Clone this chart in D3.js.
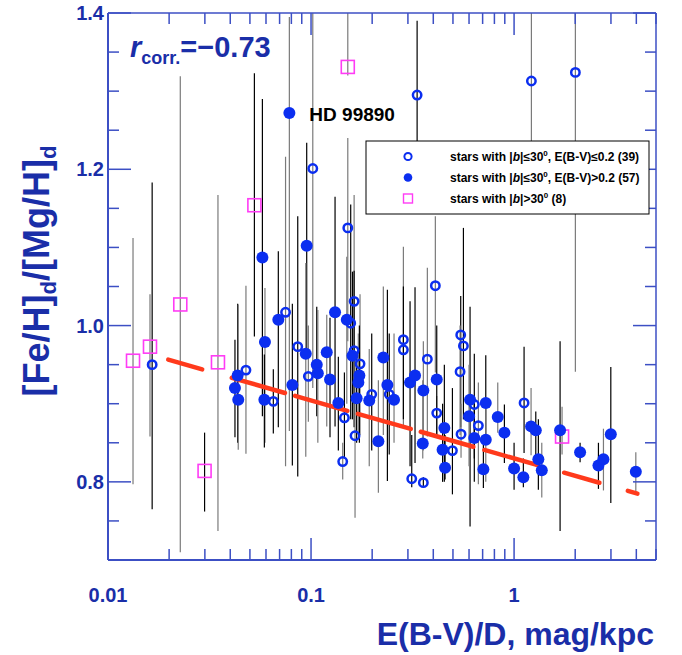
<!DOCTYPE html>
<html><head><meta charset="utf-8">
<script src="https://cdn.jsdelivr.net/npm/d3@7"></script>
<style>body{margin:0;background:#fff}svg{display:block}</style>
</head><body>
<svg id="c" width="682" height="655"></svg>
<script>
// ---------- DATA ----------
// [E(B-V)/D, ratio, errLow, errHigh, errSource]
const openCircles = [
 [0.0165,0.950,0.765,1.183,"A"],[0.0478,0.943,0.836,1.051,"B"],[0.0652,0.903,0.862,0.944,"A"],
 [0.0749,1.017,0.820,1.216,"B"],[0.0860,0.973,0.807,1.140,"A"],[0.0970,0.935,0.877,1.000,"B"],
 [0.333,1.295,1.150,1.390,"A"],[0.102,1.201,0.920,1.400,"B"],[0.1517,1.125,0.980,1.240,"B"],
 [0.4095,1.051,0.940,1.140,"B"],[1.217,1.313,1.150,1.400,"B"],[2.004,1.324,0.941,1.400,"B"],
 [0.163,1.031,0.900,1.167,"B"],[0.1568,1.003,0.880,1.155,"A"],[0.285,0.982,0.870,1.101,"B"],
 [0.285,0.969,0.880,1.050,"A"],[0.374,0.957,0.858,1.074,"B"],[0.163,0.968,0.870,1.070,"A"],
 [0.1743,0.951,0.860,1.040,"B"],[0.199,0.912,0.840,0.990,"A"],[0.2427,0.912,0.835,0.990,"A"],
 [0.146,0.882,0.830,0.940,"A"],[0.1647,0.859,0.754,0.960,"B"],[0.1432,0.826,0.803,0.850,"B"],
 [0.416,0.888,0.860,0.910,"B"],[0.3133,0.804,0.793,0.860,"A"],[0.3574,0.799,0.794,0.806,"A"],
 [0.546,0.988,0.870,1.038,"A"],[0.563,0.974,0.880,1.125,"A"],[0.542,0.941,0.860,1.000,"B"],
 [1.12,0.901,0.837,0.973,"A"],[0.637,0.899,0.830,0.964,"A"],[0.548,0.861,0.831,0.900,"B"],
 [0.667,0.872,0.797,0.927,"B"],[0.497,0.840,0.784,0.920,"A"]
];
const filledCircles = [
 [0.0782,1.272,0.865,1.395,"B"],[0.0952,1.102,0.960,1.234,"A"],[0.0576,1.087,0.884,1.290,"A"],
 [0.069,1.0075,0.870,1.095,"A"],[0.0593,0.979,0.850,1.048,"B"],[0.0942,0.964,0.832,1.080,"B"],
 [0.1195,0.966,0.871,1.014,"B"],[0.1067,0.950,0.884,1.024,"A"],[0.108,0.939,0.850,1.020,"B"],
 [0.124,0.931,0.857,1.010,"A"],[0.0809,0.924,0.821,1.028,"A"],[0.0435,0.936,0.850,1.028,"A"],
 [0.0422,0.920,0.857,0.982,"A"],[0.0438,0.905,0.841,1.027,"B"],[0.0589,0.905,0.844,0.963,"A"],
 [0.1313,1.017,0.871,1.165,"A"],[0.150,1.0075,0.900,1.088,"B"],[0.227,0.959,0.860,1.050,"B"],
 [0.160,0.9615,0.880,1.069,"A"],[0.173,0.936,0.850,1.000,"A"],[0.171,0.927,0.860,0.990,"B"],
 [0.2377,0.924,0.801,1.046,"A"],[0.2563,0.905,0.850,0.990,"B"],[0.3074,0.927,0.820,1.031,"A"],
 [0.3252,0.936,0.824,1.049,"A"],[0.3574,0.917,0.840,0.980,"B"],[0.416,0.931,0.860,1.000,"A"],
 [0.1935,0.904,0.820,0.970,"B"],[0.1363,0.901,0.840,0.960,"A"],[0.1677,0.907,0.850,0.960,"A"],
 [0.2146,0.852,0.786,0.930,"B"],[0.4535,0.869,0.800,0.950,"A"],[0.355,0.849,0.830,0.930,"B"],
 [0.4445,0.841,0.800,0.900,"A"],[0.4571,0.818,0.803,0.860,"A"],[0.607,0.905,0.743,1.024,"A"],
 [0.7254,0.901,0.850,0.962,"A"],[0.600,0.884,0.820,0.950,"B"],[0.831,0.883,0.863,0.927,"B"],
 [0.637,0.856,0.800,0.900,"A"],[0.7254,0.854,0.800,0.900,"B"],[0.896,0.863,0.824,0.899,"A"],
 [0.706,0.816,0.792,0.860,"A"],[1.2125,0.871,0.834,0.920,"B"],[1.279,0.866,0.820,0.890,"A"],
 [1.0,0.817,0.790,0.850,"A"],[1.111,0.806,0.793,0.830,"A"],[1.317,0.829,0.790,0.880,"A"],
 [1.369,0.815,0.780,0.850,"B"],[1.685,0.866,0.737,0.980,"A"],[2.114,0.838,0.825,0.850,"A"],
 [2.603,0.821,0.791,0.850,"A"],[2.755,0.829,0.789,0.868,"B"],[2.995,0.861,0.773,0.947,"A"],
 [3.977,0.813,0.788,0.838,"B"]
];
const squares = [
 [0.01328,0.955,0.797,1.112,"B"],[0.0161,0.973,0.858,1.040,"B"],[0.0227,1.027,0.710,1.319,"B"],
 [0.0299,0.814,0.762,0.863,"A"],[0.0348,0.953,0.737,1.167,"B"],[0.0526,1.154,0.986,1.323,"A"],
 [0.1517,1.331,1.320,1.450,"B"],[1.723,0.858,0.835,0.896,"B"]
];
const labelledStar = {name:"HD 99890", x:0.0782, y:1.272};
const fitIntercept = 0.830, fitSlope = -0.0742;   // y = a + b*log10(x)
const fitDashes = [[0.0198,0.0291],[0.0407,0.0744],[0.0834,0.151],[0.170,0.310],
                   [0.347,0.630],[0.714,1.308],[1.763,2.632],[3.632,4.05]];
const xDomain = [0.01, 5], yDomain = [0.7, 1.4];
const xMajor = [0.01, 0.1, 1];
const xMinor = [0.02,0.03,0.04,0.05,0.06,0.07,0.08,0.09,0.2,0.3,0.4,0.5,0.6,0.7,0.8,0.9,2,3,4,5];
const xLabels = ["0.01","0.1","1"];
const yMajor = [0.8, 1.0, 1.2, 1.4];
const yMinor = [0.75,0.85,0.9,0.95,1.05,1.1,1.15,1.25,1.3,1.35];
const yLabels = ["0.8","1.0","1.2","1.4"];
const legendItems = [
  {kind:"open", pre:"stars with |", it:"b", mid:"|≤30", sup:"0", post:", E(B-V)≤0.2 (39)"},
  {kind:"filled", pre:"stars with |", it:"b", mid:"|≤30", sup:"0", post:", E(B-V)>0.2 (57)"},
  {kind:"square", pre:"stars with |", it:"b", mid:"|>30", sup:"0", post:" (8)"}
];
const corrText = {sym:"r", sub:"corr.", val:"=\u22120.73"};
const xTitle = "E(B-V)/D, mag/kpc";

// ---------- DRAW ----------
const FONT = "'Liberation Sans', Arial, Helvetica, sans-serif";
const BLUE_TXT = "#1a2ea8", AXIS = "#3c4fc4", MARK = "#0b2ef0", MAG = "#ff3cf5", RED = "#ff3a1c";
const L = 108, R = 656, T = 13, B = 560;
const svg = d3.select("#c").style("font-family", FONT);
svg.append("rect").attr("width",682).attr("height",655).attr("fill","#fff");
const x = d3.scaleLog().domain(xDomain).range([L, R]);
const y = d3.scaleLinear().domain(yDomain).range([B, T]);
const barColor = d3.scaleOrdinal().domain(["A","B"]).range(["#000000","#7a7a7a"]);

svg.append("clipPath").attr("id","clip").append("rect").attr("x",L).attr("y",T).attr("width",R-L).attr("height",B-T);
const plot = svg.append("g").attr("clip-path","url(#clip)");

const all = [...squares, ...openCircles, ...filledCircles];
plot.selectAll("line.err").data(all).join("line").attr("class","err")
  .attr("x1",d=>x(d[0])).attr("x2",d=>x(d[0]))
  .attr("y1",d=>y(d[2])).attr("y2",d=>y(d[3]))
  .attr("stroke",d=>barColor(d[4])).attr("stroke-width",1.2);

// regression dashes
plot.selectAll("line.fit").data(fitDashes).join("line").attr("class","fit")
  .attr("x1",d=>x(d[0])).attr("y1",d=>y(fitIntercept+fitSlope*Math.log10(d[0])))
  .attr("x2",d=>x(d[1])).attr("y2",d=>y(fitIntercept+fitSlope*Math.log10(d[1])))
  .attr("stroke",RED).attr("stroke-width",4.5).attr("stroke-linecap","round");

plot.selectAll("rect.sq").data(squares).join("rect").attr("class","sq")
  .attr("x",d=>x(d[0])-6.5).attr("y",d=>y(d[1])-6.5).attr("width",13).attr("height",13)
  .attr("fill","none").attr("stroke",MAG).attr("stroke-width",1.6);
plot.selectAll("circle.op").data(openCircles).join("circle").attr("class","op")
  .attr("cx",d=>x(d[0])).attr("cy",d=>y(d[1])).attr("r",4.2)
  .attr("fill","none").attr("stroke",MARK).attr("stroke-width",2.5);
plot.selectAll("circle.fl").data(filledCircles).join("circle").attr("class","fl")
  .attr("cx",d=>x(d[0])).attr("cy",d=>y(d[1])).attr("r",6).attr("fill",MARK);

// axes frame
const ax = svg.append("g").attr("stroke",AXIS).attr("fill","none");
function tickLines(vals, len, side){
  vals.forEach(v=>{
    if(side==="b") ax.append("line").attr("x1",x(v)).attr("x2",x(v)).attr("y1",B).attr("y2",B-len);
    if(side==="t") ax.append("line").attr("x1",x(v)).attr("x2",x(v)).attr("y1",T).attr("y2",T+len);
    if(side==="l") ax.append("line").attr("y1",y(v)).attr("y2",y(v)).attr("x1",L).attr("x2",L+len);
    if(side==="r") ax.append("line").attr("y1",y(v)).attr("y2",y(v)).attr("x1",R).attr("x2",R-len);
  });
}
ax.attr("stroke-width",1.5);
tickLines(xMajor,22,"b"); tickLines(xMinor,11,"b");
tickLines(xMajor,22,"t"); tickLines(xMinor,11,"t");
tickLines(yMajor,23,"l"); tickLines(yMinor,11,"l");
tickLines(yMajor,23,"r"); tickLines(yMinor,11,"r");
ax.append("line").attr("x1",L).attr("x2",R).attr("y1",T).attr("y2",T).attr("stroke-width",1.3);
ax.append("line").attr("x1",R).attr("x2",R).attr("y1",T).attr("y2",B).attr("stroke-width",1.5);
ax.append("line").attr("x1",L).attr("x2",R).attr("y1",B).attr("y2",B).attr("stroke-width",2);
ax.append("line").attr("x1",L).attr("x2",L).attr("y1",T).attr("y2",B).attr("stroke-width",2);

// tick labels
svg.selectAll("text.xl").data(xMajor).join("text").attr("class","xl")
  .attr("x",d=>x(d)).attr("y",602).attr("text-anchor","middle")
  .attr("font-size",20).attr("font-weight","bold").attr("fill",BLUE_TXT)
  .text((d,i)=>xLabels[i]);
svg.selectAll("text.yl").data(yMajor).join("text").attr("class","yl")
  .attr("x",104).attr("y",d=>y(d)).attr("dy","0.36em").attr("text-anchor","end")
  .attr("font-size",20).attr("font-weight","bold").attr("fill",BLUE_TXT)
  .text((d,i)=>yLabels[i]);

// axis titles
svg.append("text").attr("x",654).attr("y",645).attr("text-anchor","end")
  .attr("font-size",32).attr("font-weight","bold").attr("fill",BLUE_TXT).text(xTitle);
const yt = svg.append("text").attr("transform","translate(49,271) rotate(-90)")
  .attr("text-anchor","middle").attr("font-size",36).attr("font-weight","bold").attr("fill",BLUE_TXT);
yt.append("tspan").text("[Fe/H]");
yt.append("tspan").attr("font-size",22).attr("dy",7).text("d");
yt.append("tspan").attr("dy",-7).text("/[Mg/H]");
yt.append("tspan").attr("font-size",22).attr("dy",7).text("d");

// correlation text
const ct = svg.append("text").attr("x",130).attr("y",57).attr("font-weight","bold").attr("fill",BLUE_TXT).attr("font-size",29);
ct.append("tspan").attr("font-style","italic").text(corrText.sym);
ct.append("tspan").attr("font-size",18).attr("dy",7).text(corrText.sub);
ct.append("tspan").attr("dy",-7).text(corrText.val);

// labelled star
svg.append("text").attr("x",x(labelledStar.x)+20).attr("y",y(labelledStar.y)+8)
  .attr("font-size",19).attr("font-weight","bold").attr("fill","#000").text(labelledStar.name);

// legend
const lg = svg.append("g");
lg.append("rect").attr("x",366).attr("y",141).attr("width",283).attr("height",73)
  .attr("fill","#fff").attr("stroke","#000").attr("stroke-width",1);
legendItems.forEach((it,i)=>{
  const cy = 156.5 + i*21, mx = 408;
  if(it.kind==="open") lg.append("circle").attr("cx",mx).attr("cy",cy).attr("r",3.6).attr("fill","none").attr("stroke",MARK).attr("stroke-width",2);
  if(it.kind==="filled") lg.append("circle").attr("cx",mx).attr("cy",cy).attr("r",4.3).attr("fill",MARK);
  if(it.kind==="square") lg.append("rect").attr("x",mx-4.5).attr("y",cy-4.5).attr("width",9).attr("height",9).attr("fill","none").attr("stroke",MAG).attr("stroke-width",1.4);
  const t = lg.append("text").attr("x",450).attr("y",cy+4.5).attr("font-size",12).attr("font-weight","bold").attr("fill","#000");
  t.append("tspan").text(it.pre);
  t.append("tspan").attr("font-style","italic").text(it.it);
  t.append("tspan").text(it.mid);
  t.append("tspan").attr("font-size",8).attr("dy",-5).text(it.sup);
  t.append("tspan").attr("dy",5).text(it.post);
});
</script>
</body></html>
